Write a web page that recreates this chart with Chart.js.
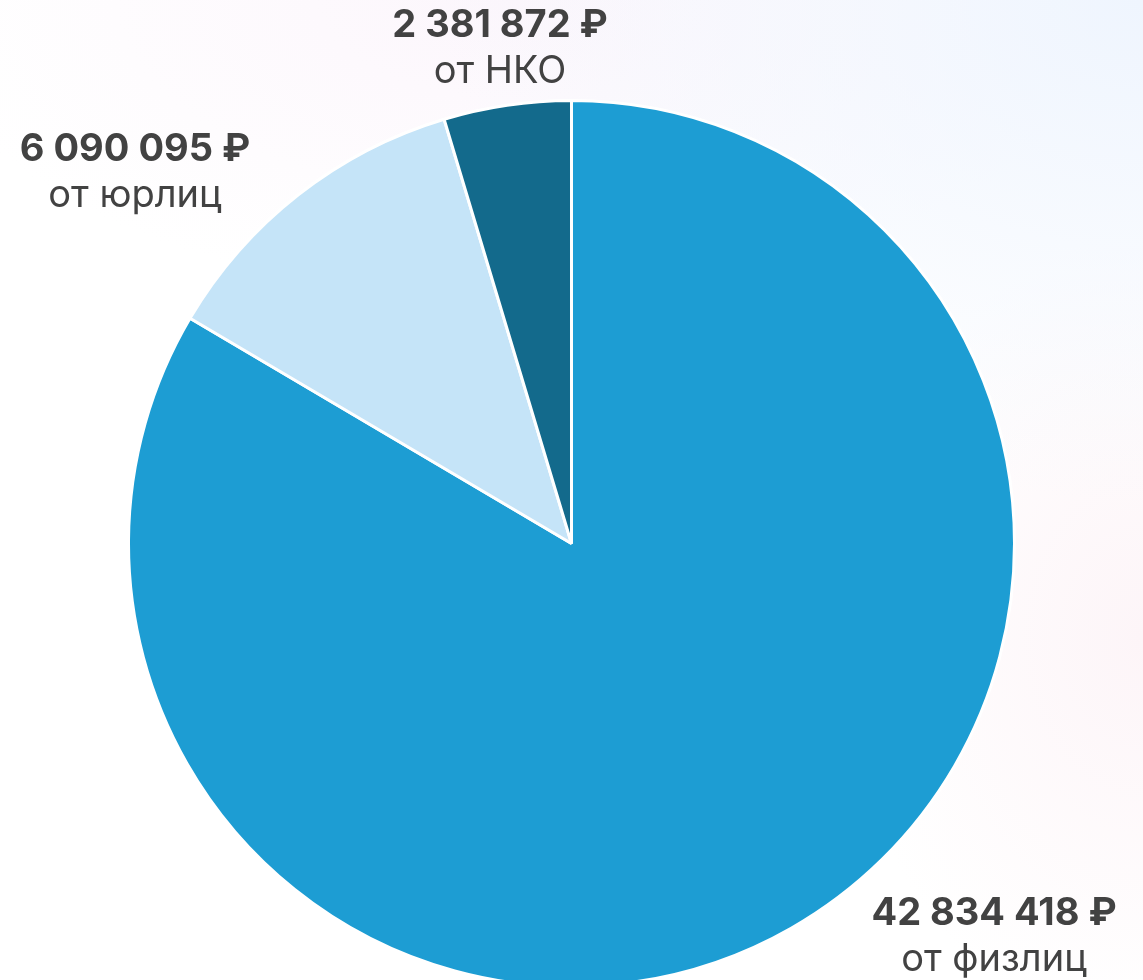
<!DOCTYPE html>
<html lang="ru">
<head>
<meta charset="utf-8">
<title>Пожертвования</title>
<script src="https://cdn.jsdelivr.net/npm/chart.js@4.4.1/dist/chart.umd.min.js"></script>
<style>
    html, body {
        margin: 0;
        padding: 0;
        width: 1143px;
        height: 980px;
        overflow: hidden;
    }
    body {
        background:
            radial-gradient(ellipse 700px 500px at 100% 0%, rgba(239, 245, 254, 1) 0%, rgba(239, 245, 254, 0) 100%),
            radial-gradient(ellipse 600px 300px at 45% 0%, rgba(252, 246, 252, 1) 0%, rgba(252, 246, 252, 0) 100%),
            radial-gradient(ellipse 300px 400px at 100% 65%, rgba(253, 245, 248, 1) 0%, rgba(253, 245, 248, 0) 100%),
            #ffffff;
    }
    canvas {
        display: block;
    }
</style>
</head>
<body>
<canvas id="donations-chart" width="1143" height="988"></canvas>
<script>
// Данные
const categories = ['от физлиц', 'от юрлиц', 'от НКО'];
const amounts = [42834418, 6090095, 2381872];
const sliceColors = ['#1d9dd3', '#c5e4f8', '#136a8c'];

// Где стоят подписи (центр текста, базовая линия первой строки)
const labelAnchors = [
    { x: 994, y: 925 },
    { x: 135, y: 161 },
    { x: 500, y: 37 }
];

function formatRub(value) {
    return value.toString().replace(/\B(?=(\d{3})+(?!\d))/g, ' ') + ' ₽';
}

const labelsPlugin = {
    id: 'sliceLabels',
    afterDraw: (chart) => {
        const ctx = chart.ctx;
        ctx.save();
        ctx.fillStyle = '#424242';
        ctx.textAlign = 'center';
        ctx.textBaseline = 'alphabetic';
        chart.data.labels.forEach((label, i) => {
            const anchor = labelAnchors[i];
            ctx.font = "bold 38px 'Inter', 'Roboto', sans-serif";
            ctx.fillText(formatRub(chart.data.datasets[0].data[i]), anchor.x, anchor.y);
            ctx.font = "38px 'Inter', 'Roboto', sans-serif";
            ctx.fillText(label, anchor.x, anchor.y + 46);
        });
        ctx.restore();
    }
};

const ctx = document.getElementById('donations-chart');

new Chart(ctx, {
    type: 'pie',
    data: {
        labels: categories,
        datasets: [{
            data: amounts,
            backgroundColor: sliceColors,
            borderColor: '#ffffff',
            borderWidth: 3
        }]
    },
    options: {
        responsive: false,
        devicePixelRatio: 1,
        animation: false,
        layout: {
            padding: { top: 99, bottom: 0, left: 127, right: 127 }
        },
        plugins: {
            legend: { display: false },
            tooltip: { enabled: false }
        }
    },
    plugins: [labelsPlugin]
});
</script>
</body>
</html>
